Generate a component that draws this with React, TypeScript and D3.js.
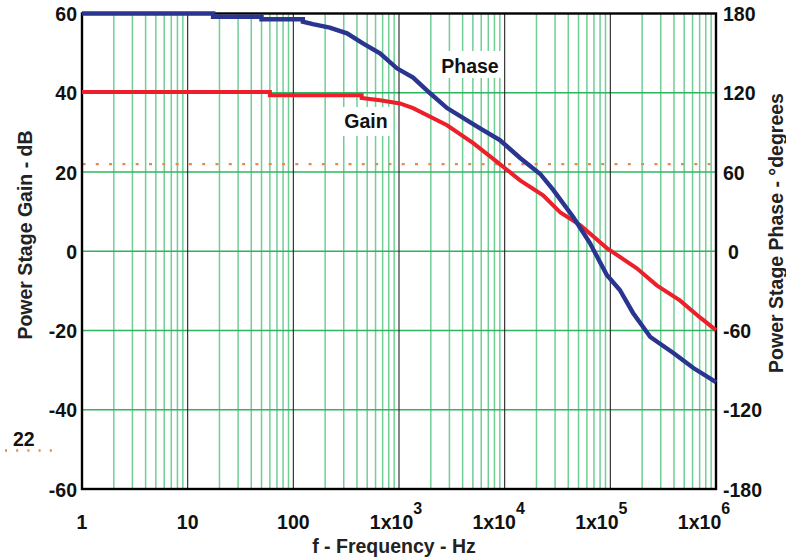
import React, { useEffect } from "react";
import * as d3 from "d3";

// gain curve (dB)
const gainFreq = [1, 60, 60, 443, 443, 661, 1020, 1360, 2850, 5040, 8530, 14000, 23100, 33600, 51800, 92600, 178000, 275000, 455000, 705000, 1000000];
const gainDb = [40.2, 40.2, 39.4, 39.4, 38.7, 38.1, 37.3, 36.1, 31.8, 27.3, 22.5, 17.9, 14.1, 9.8, 6.6, 0.8, -4.3, -8.6, -12.4, -16.7, -19.9];

// phase curve (degrees)
const phaseFreq = [1, 17.4, 17.4, 50, 50, 123, 123, 153, 221, 322, 455, 661, 955, 1360, 1970, 2850, 5800, 9000, 14000, 21700, 28800, 44500, 64100, 92600, 123000, 164000, 239000, 395000, 611000, 1000000];
const phaseDeg = [180, 180, 177.5, 177.5, 175.6, 175.6, 173.8, 172, 169.3, 165, 157.4, 149.9, 138.5, 131.5, 119.6, 108.4, 93.3, 84.2, 70.6, 58.5, 46.4, 25.9, 6.2, -18, -29.3, -46.7, -64.9, -77, -88.4, -99];

const markerDb = 22;
const gainTicks = [60, 40, 20, 0, -20, -40, -60];
const phaseTicks = [180, 120, 60, 0, -60, -120, -180];
const decades = [1, 10, 100, 1e3, 1e4, 1e5, 1e6];
const decadeLabels = ["1", "10", "100", "1x10", "1x10", "1x10", "1x10"];
const decadeExp = ["", "", "", "3", "4", "5", "6"];

const W = 786, H = 558;
const left = 82, right = 716, top = 13.5, bottom = 489;

const App = () => {
  useEffect(() => {
    document.body.style.margin = "0";
  }, []);

  const x = d3.scaleLog().domain([1, 1e6]).range([left, right]);
  const yG = d3.scaleLinear().domain([-60, 60]).range([bottom, top]);
  const yP = d3.scaleLinear().domain([-180, 180]).range([bottom, top]);

  const minors: number[] = [];
  for (let d = 0; d < 6; d++) {
    for (let m = 2; m <= 9; m++) minors.push(m * Math.pow(10, d));
  }

  const gainLine = d3.line<number>()
    .x((_, i) => x(gainFreq[i]))
    .y((d) => yG(d));
  const phaseLine = d3.line<number>()
    .x((_, i) => x(phaseFreq[i]))
    .y((d) => yP(d));

  const font = "'Liberation Sans', Arial, sans-serif";
  const fs = 19.5;

  return (
    <svg width={W} height={H} style={{ display: "block", background: "#fff" }} fontFamily={font} fontWeight="bold">
      {/* minor vertical grid */}
      {minors.map((m) => (
        <line key={"m" + m} x1={x(m)} x2={x(m)} y1={top} y2={bottom} stroke="#6fcf95" strokeWidth={1.5} />
      ))}
      {/* horizontal grid */}
      {gainTicks.slice(1, -1).map((t) => (
        <line key={"h" + t} x1={left} x2={right} y1={yG(t)} y2={yG(t)} stroke="#2fb460" strokeWidth={1.3} />
      ))}
      {/* decade lines */}
      {decades.slice(1, -1).map((d) => (
        <line key={"d" + d} x1={x(d)} x2={x(d)} y1={top} y2={bottom} stroke="#222" strokeWidth={1.1} />
      ))}

      {/* dotted marker line */}
      <line x1={left + 0.5} x2={right} y1={yG(markerDb)} y2={yG(markerDb)}
        stroke="#f0854a" strokeWidth={2.4} strokeDasharray="3 10.3" />

      {/* frame */}
      <rect x={left} y={top} width={right - left} height={bottom - top} fill="none" stroke="#000" strokeWidth={2.4} />

      {/* label boxes */}
      <rect x={436} y={51} width={68} height={27} fill="#fff" />
      <rect x={333} y={107} width={60} height={29} fill="#fff" />

      <path d={gainLine(gainDb) || ""} fill="none" stroke="#ec1f2a" strokeWidth={4} />
      <path d={phaseLine(phaseDeg) || ""} fill="none" stroke="#2a3590" strokeWidth={4.4} />

      <text x={470} y={73} fontSize={fs} textAnchor="middle" fill="#111">Phase</text>
      <text x={366} y={128} fontSize={fs} textAnchor="middle" fill="#111">Gain</text>

      {/* left ticks */}
      {gainTicks.map((t) => (
        <text key={"gl" + t} x={77} y={yG(t) + 7.5} fontSize={fs} textAnchor="end" fill="#111">{t}</text>
      ))}
      {/* right ticks */}
      {phaseTicks.map((t) => (
        <text key={"pl" + t} x={t === 0 ? 728 : 723} y={yP(t) + 7.5} fontSize={fs} textAnchor="start" fill="#111">{t}</text>
      ))}
      {/* x ticks */}
      {decades.map((d, i) => (
        <text key={"xl" + d} x={x(d) - (decadeExp[i] ? 3 + (i - 3) * 3 : 0)} y={529} fontSize={fs} textAnchor="middle" fill="#111">
          {decadeLabels[i]}
          {decadeExp[i] && <tspan dy={-15} fontSize={16}>{decadeExp[i]}</tspan>}
        </text>
      ))}

      {/* axis titles */}
      <text x={394} y={553} fontSize={fs} textAnchor="middle" fill="#222">f - Frequency - Hz</text>
      <text transform="translate(32,235) rotate(-90)" fontSize={fs} textAnchor="middle" fill="#222">Power Stage Gain - dB</text>
      <text transform="translate(783,233) rotate(-90)" fontSize={fs} textAnchor="middle" fill="#222">Power Stage Phase - °degrees</text>

      {/* legend */}
      <text x={13} y={446} fontSize={fs} fill="#111">{markerDb}</text>
      <line x1={5} x2={56} y1={450.5} y2={450.5} stroke="#f0854a" strokeWidth={2.4} strokeDasharray="2 9.2" />
    </svg>
  );
};

export default App;
